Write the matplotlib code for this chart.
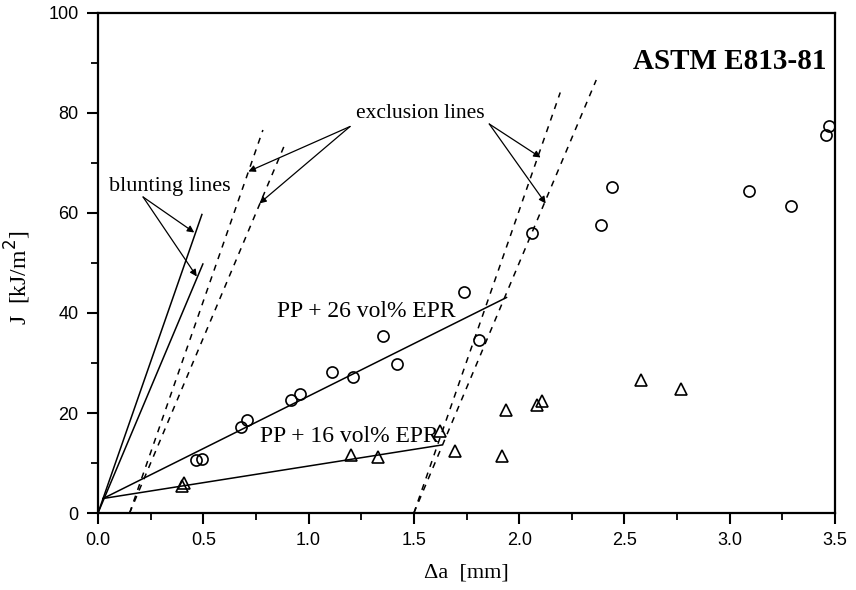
import numpy as np
import matplotlib
matplotlib.use('Agg')
import matplotlib.pyplot as plt

# PP + 26 vol% EPR (circles)
da_26 = [0.465, 0.492, 0.679, 0.709, 0.915, 0.959, 1.11, 1.209, 1.355, 1.421,
         1.739, 1.809, 2.062, 2.387, 2.439, 3.09, 3.289, 3.455, 3.473]
j_26 = [10.7, 10.8, 17.3, 18.6, 22.5, 23.8, 28.1, 27.1, 35.3, 29.8,
        44.1, 34.5, 55.9, 57.5, 65.1, 64.3, 61.3, 75.5, 77.4]

# PP + 16 vol% EPR (triangles)
da_16 = [0.40, 0.41, 1.201, 1.331, 1.624, 1.695, 1.917, 1.937, 2.086, 2.107, 2.577, 2.77]
j_16 = [5.4, 6.0, 11.6, 11.3, 16.4, 12.4, 11.4, 20.5, 21.5, 22.3, 26.6, 24.7]

# fitted R-curves (start, end)
fit_26_x = [0.024, 1.94]
fit_26_y = [2.9, 43.1]
fit_16_x = [0.024, 1.632]
fit_16_y = [2.9, 13.6]

# blunting line slopes and top J, exclusion offsets
blunt_slope = [121, 100]
blunt_top = [59.7, 49.8]
excl_offset = [0.15, 1.5]
excl_top = [[76.6, 74.0], [84.1, 86.6]]

serif = ['Liberation Serif', 'DejaVu Serif']
sans = ['Liberation Sans Narrow', 'Liberation Sans', 'DejaVu Sans']

fig = plt.figure(figsize=(8.56, 5.90), dpi=100)
ax = fig.add_axes([0.1145, 0.1305, 0.861, 0.8475])

for s, top in zip(blunt_slope, blunt_top):
    ax.plot([0, top / s], [0, top], color='black', lw=1.1)

for off, tops in zip(excl_offset, excl_top):
    for s, top in zip(blunt_slope, tops):
        ax.plot([off, off + top / s], [0, top], color='black', lw=1.1,
                linestyle=(0, (4, 4)))

ax.plot(fit_26_x, fit_26_y, color='black', lw=1.1)
ax.plot(fit_16_x, fit_16_y, color='black', lw=1.1)

ax.plot(da_26, j_26, 'o', mfc='none', mec='black', ms=8, mew=1.2)
ax.plot(da_16, j_16, '^', mfc='none', mec='black', ms=8, mew=1.2)

arrow = dict(arrowstyle='-|>', color='black', lw=0.9, mutation_scale=10,
             shrinkA=0, shrinkB=0)
ax.text(0.342, 65.3, 'blunting lines', family=serif, fontsize=16,
        ha='center', va='center')
for hx, hy in [(0.457, 56.1), (0.469, 47.3)]:
    ax.annotate('', xy=(hx, hy), xytext=(0.214, 63.2), arrowprops=arrow)

ax.text(1.529, 79.8, 'exclusion lines', family=serif, fontsize=15.5,
        ha='center', va='center')
for hx, hy in [(0.714, 68.3), (0.766, 61.9)]:
    ax.annotate('', xy=(hx, hy), xytext=(1.197, 77.3), arrowprops=arrow)
for hx, hy in [(2.102, 71.1), (2.126, 61.9)]:
    ax.annotate('', xy=(hx, hy), xytext=(1.858, 77.8), arrowprops=arrow)

ax.text(1.273, 40.3, 'PP + 26 vol% EPR', family=serif, fontsize=17,
        ha='center', va='center')
ax.text(1.192, 15.3, 'PP + 16 vol% EPR', family=serif, fontsize=17,
        ha='center', va='center')
ax.text(3.46, 90.3, 'ASTM E813-81', family=serif, fontsize=21,
        fontweight='bold', ha='right', va='center')

ax.set_xlim(0, 3.5)
ax.set_ylim(0, 100)
ax.set_xticks(np.arange(0, 3.51, 0.5))
ax.set_xticks(np.arange(0, 3.51, 0.25), minor=True)
ax.set_yticks(np.arange(0, 101, 20))
ax.set_yticks(np.arange(0, 101, 10), minor=True)
ax.set_xticklabels(['%.1f' % v for v in np.arange(0, 3.51, 0.5)])
for lab in ax.get_xticklabels() + ax.get_yticklabels():
    lab.set_family(sans)
    lab.set_fontsize(13)
ax.tick_params(which='major', direction='out', length=8, width=1.5, pad=6)
ax.tick_params(which='minor', direction='out', length=5, width=1.3)
for sp in ax.spines.values():
    sp.set_linewidth(1.6)

ax.set_xlabel('Δa  [mm]', family=serif, fontsize=16, labelpad=10)
ax.set_ylabel('J  [kJ/m$^2$]', family=serif, fontsize=17)
ax.yaxis.set_label_coords(-0.088, 0.47)

fig.savefig('out.png', dpi=100)
